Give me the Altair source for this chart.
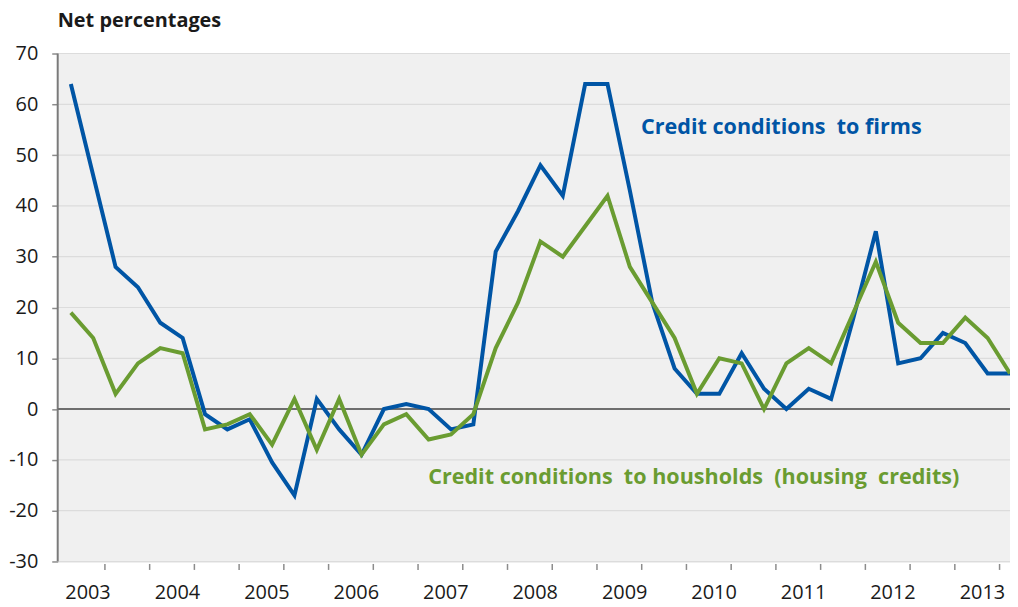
import altair as alt
import pandas as pd

years = list(range(2003, 2014))
quarters = ["Q1", "Q2", "Q3", "Q4"]
firms = [64, 46, 28, 24, 17, 14, -1, -4, -2, -10.5, -17, 2, -4, -9, 0, 1,
         0, -4, -3, 31, 39, 48, 42, 64, 64, 43, 21, 8, 3, 3, 11, 4,
         0, 4, 2, 18, 35, 9, 10, 15, 13, 7, 7]
households = [19, 14, 3, 9, 12, 11, -4, -3, -1, -7, 2, -8, 2, -9, -3, -1,
              -6, -5, -1, 12, 21, 33, 30, 36, 42, 28, 21, 14, 3, 10, 9, 0,
              9, 12, 9, 19, 29, 17, 13, 13, 18, 14, 7]
y_ticks = [-30, -20, -10, 0, 10, 20, 30, 40, 50, 60, 70]
x_ticks = [y + h for y in years for h in (0, 0.5)]

labels = [f"{y}{q}" for y in years for q in quarters][:len(firms)]
# quarter mid-points on a fractional-year axis
tpos = [int(l[:4]) + (int(l[-1]) - 0.5) / 4 for l in labels]

series_names = ["Credit conditions to firms", "Credit conditions to housholds (housing credits)"]
BLUE = "#0055A5"
GREEN = "#6A9C31"
NB = "\u00a0"

df = pd.DataFrame({
    "t": tpos * 2,
    "value": firms + households,
    "series": [series_names[0]] * len(firms) + [series_names[1]] * len(households),
})

annot = pd.DataFrame({
    "t": [2009.50, 2007.12],
    "value": [55.6, -13.3],
    "label": [f"Credit conditions {NB}to firms",
              f"Credit conditions {NB}to housholds {NB}(housing {NB}credits)"],
    "series": series_names,
})

X0, X1 = 2002.978, 2013.625
FONT = "Open Sans"
xscale = alt.Scale(domain=[X0, X1], nice=False, zero=False)
yscale = alt.Scale(domain=[-30, 70], nice=False)
color = alt.Color("series:N", scale=alt.Scale(domain=series_names, range=[BLUE, GREEN]), legend=None)

bg = alt.Chart(pd.DataFrame({"x": [X0], "x2": [X1], "y": [-30], "y2": [70]})).mark_rect(
    color="#f0f0f0").encode(
    x=alt.X("x:Q", scale=xscale, title=None,
            axis=alt.Axis(values=x_ticks, grid=False, domain=False, tickSize=6, offset=2,
                          tickColor={"condition": {"test": "datum.value == 2003", "value": "transparent"}, "value": "#8c8c8c"},
                          tickWidth=1.5,
                          labelExpr="datum.value % 1 == 0 ? '' + datum.value : ''",
                          labelOffset=28, labelPadding=13, labelOverlap=False, labelFlush=False,
                          labelFont=FONT, labelFontSize=20, labelColor="#1a1a1a")),
    x2="x2:Q",
    y=alt.Y("y:Q", scale=yscale, title=None,
            axis=alt.Axis(values=y_ticks, grid=False, domain=False,
                          tickSize=6, tickColor="#8c8c8c", tickWidth=1.5, labelPadding=14,
                          labelExpr="datum.value < 0 ? '-' + abs(datum.value) : '' + datum.value",
                          labelFont=FONT, labelFontSize=20, labelColor="#1a1a1a")),
    y2="y2:Q",
)

grid = alt.Chart(pd.DataFrame({"value": y_ticks})).mark_rule(color="#dcdcdc", strokeWidth=1.2).encode(
    y=alt.Y("value:Q", scale=yscale)
)

leftline = alt.Chart(pd.DataFrame({"x": [X0]})).mark_rule(color="#7a7a7a", strokeWidth=2).encode(
    x=alt.X("x:Q", scale=xscale)
)

zero = alt.Chart(pd.DataFrame({"value": [0]})).mark_rule(color="#6e6e6e", strokeWidth=2).encode(
    y=alt.Y("value:Q", scale=yscale)
)

lines = alt.Chart(df).mark_line(strokeWidth=4, strokeJoin="miter", clip=False).encode(
    x=alt.X("t:Q", scale=xscale),
    y=alt.Y("value:Q", scale=yscale),
    color=color,
    detail="series:N",
)

texts = alt.Chart(annot).mark_text(align="left", baseline="middle", font=FONT,
                                   fontSize=21.7, fontWeight="bold").encode(
    x=alt.X("t:Q", scale=xscale),
    y=alt.Y("value:Q", scale=yscale),
    text="label:N",
    color=color,
)

chart = alt.layer(bg, grid, leftline, zero, lines, texts).properties(
    width=958, height=511,
    title=alt.TitleParams("Net percentages", anchor="start", frame="group", font=FONT,
                          fontSize=20, fontWeight="bold", color="#1a1a1a", offset=13),
    autosize=alt.AutoSizeParams(type="none"),
    padding={"left": 50, "top": 44, "right": 0, "bottom": 42},
).configure_view(strokeWidth=0).configure(background="white")

chart.save("out.html", embed_options={"renderer": "svg", "actions": False})
